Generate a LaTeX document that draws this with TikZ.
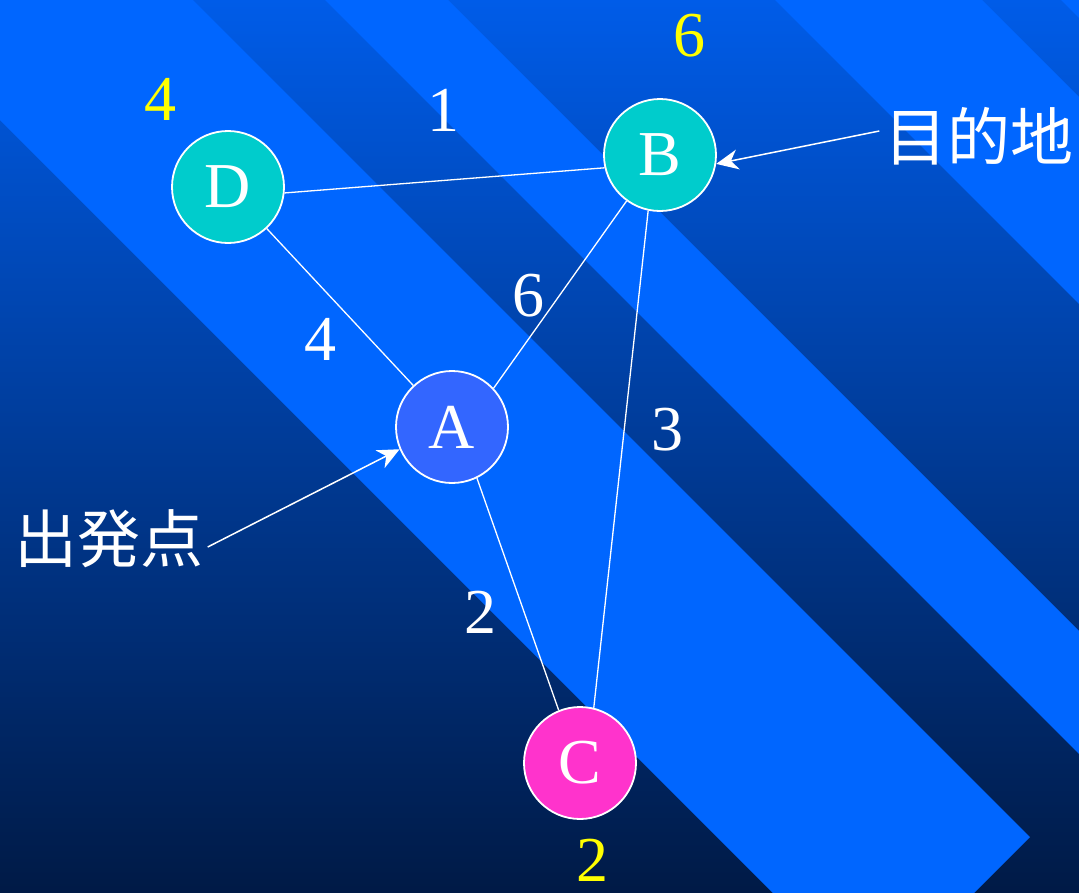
\documentclass[tikz,border=0pt]{standalone}
\usepackage{fontspec}
\setmainfont{Liberation Serif}
\newfontfamily\cjk{Noto Sans CJK JP}
\usetikzlibrary{arrows.meta}
\definecolor{stripecol}{RGB}{0,102,255}
\definecolor{bgtop}{RGB}{0,92,232}
\definecolor{bgmid}{RGB}{0,68,170}
\definecolor{bgbot}{RGB}{0,26,70}
\definecolor{nodeteal}{RGB}{0,204,204}
\definecolor{nodeA}{RGB}{51,102,255}
\definecolor{nodeC}{RGB}{255,51,204}
\definecolor{lblyellow}{RGB}{255,255,0}
\begin{document}
\begin{tikzpicture}[x=1pt,y=-1pt,
  vtx/.style={circle, draw=white, line width=1.8pt, minimum size=112pt, inner sep=0pt, text=white, font=\fontsize{64}{64}\selectfont},
  edge/.style={draw=white, line width=1.3pt},
  wlbl/.style={text=white, font=\fontsize{64}{64}\selectfont, inner sep=0pt},
  ylbl/.style={text=lblyellow, font=\fontsize{64}{64}\selectfont, inner sep=0pt},
  cjklbl/.style={text=white, font=\cjk\fontsize{63}{63}\selectfont, inner sep=0pt},
  ptr/.style={draw=white, line width=1.5pt, -{Stealth[length=22pt, width=20pt, inset=7pt]}}
]
\useasboundingbox (0,0) rectangle (1079,892);
\shade[top color=bgtop, middle color=bgmid, bottom color=bgbot] (0,0) rectangle (1079,892);
\begin{scope}
  \clip (0,0) rectangle (1079,892);
  \fill[stripecol] (-600,-480) -- (873.5,993.5) -- (1030,837) -- (-600,-793) -- cycle;
  \fill[stripecol] (-600,-925) -- (2000,1675) -- (2000,1552) -- (-600,-1048) -- cycle;
  \fill[stripecol] (-600,-1375) -- (2000,1225) -- (2000,1018) -- (-600,-1582) -- cycle;
  \fill[stripecol] (-100,-1161) -- (2000,939) -- (2000,600) -- (-100,-1500) -- cycle;
\end{scope}

\node[vtx, fill=nodeteal] (D) at (228,187) {D};
\node[vtx, fill=nodeteal] (B) at (660,155) {B};
\node[vtx, fill=nodeA] (A) at (452,427) {A};
\node[vtx, fill=nodeC] (C) at (580,763) {C};

\draw[edge] (D.-6) -- (B.193);
\draw[edge] (D.-47) -- (A.133);
\draw[edge] (A.43) -- (B.234);
\draw[edge] (A.-64) -- (C.112);
\draw[edge] (B.258) -- (C.76);

\node[wlbl] (w1) at (443,110) {1};
\node[wlbl] (w6) at (528,296) {6};
\node[wlbl] (w4) at (320,339) {4};
\node[wlbl] (w3) at (667,430) {3};
\node[wlbl] (w2) at (480,612) {2};

\node[ylbl] (yD) at (160,99) {4};
\node[ylbl] (yB) at (689,36) {6};
\node[ylbl] (yC) at (592,860) {2};

\node[cjklbl] (dst) at (979,136) {目的地};
\node[cjklbl] (org) at (109,539) {出発点};

\draw[ptr] ([xshift=-5pt,yshift=5pt]dst.west) -- (B.-9);
\draw[ptr] ([xshift=4pt,yshift=-8pt]org.east) -- (A.203);
\end{tikzpicture}
\end{document}
